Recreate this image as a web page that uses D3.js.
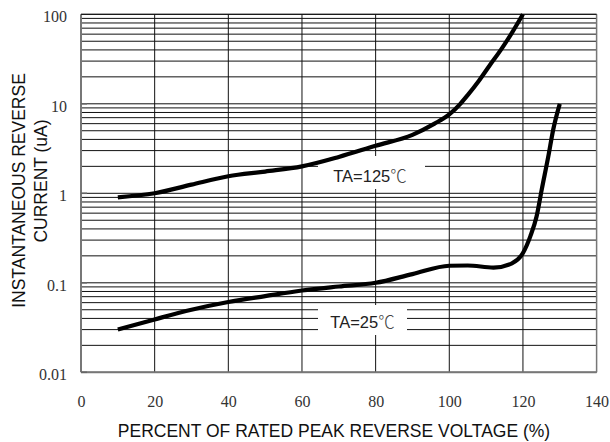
<!DOCTYPE html>
<html>
<head>
<meta charset="utf-8">
<script src="https://cdn.jsdelivr.net/npm/d3@7/dist/d3.min.js"></script>
<style>
  html, body { margin: 0; padding: 0; background: #fff; }
  svg { display: block; }
</style>
</head>
<body>
<svg id="chart" width="610" height="442"></svg>
<script>
// ---- data ----
const xTicks = [0, 20, 40, 60, 80, 100, 120, 140];
const yTicks = [0.01, 0.1, 1, 10, 100];
const yTickLabels = ["0.01", "0.1", "1", "10", "100"];

const ta125X = [10, 20, 30, 40, 50, 60, 70, 80, 90, 96, 100, 103, 105, 108, 111, 114, 117, 120];
const ta125Y = [0.9, 1.0, 1.25, 1.55, 1.75, 2.0, 2.55, 3.4, 4.5, 6.0, 7.6, 10, 12.5, 18, 27, 40, 62, 100];

const ta25X = [10, 20, 30, 40, 50, 60, 70, 80, 90, 100, 105, 112, 117, 120, 122, 123.7, 125.1, 126.9, 128.2, 130];
const ta25Y = [0.030, 0.039, 0.05, 0.061, 0.071, 0.082, 0.091, 0.10, 0.125, 0.155, 0.156, 0.148, 0.165, 0.215, 0.33, 0.55, 1.1, 2.6, 5.1, 10];

const seriesLabels = ["TA=125", "TA=25"];

// ---- layout ----
const L = 81, R = 596.6, T = 14.3, B = 372.3;
const svg = d3.select("#chart");
const x = d3.scaleLinear().domain([0, 140]).range([L, R]);
const y = d3.scaleLog().domain([0.01, 100]).range([B, T]);

// horizontal grid (1..9 per decade)
const hGrid = [];
for (let d = -2; d <= 1; d++) {
  for (let k = 1; k <= 9; k++) hGrid.push(k * Math.pow(10, d));
}
hGrid.push(100);
svg.append("g").selectAll("line").data(hGrid).join("line")
  .attr("x1", L).attr("x2", R)
  .attr("y1", d => y(d)).attr("y2", d => y(d))
  .attr("stroke", "#111").attr("stroke-width", 1);

// vertical grid
svg.append("g").selectAll("line").data(xTicks.slice(1, -1)).join("line")
  .attr("x1", d => x(d)).attr("x2", d => x(d))
  .attr("y1", T).attr("y2", B)
  .attr("stroke", "#111").attr("stroke-width", 1);

// frame
svg.append("line").attr("x1", L).attr("x2", L).attr("y1", T).attr("y2", B)
  .attr("stroke", "#777").attr("stroke-width", 2);
svg.append("line").attr("x1", R).attr("x2", R).attr("y1", T).attr("y2", B)
  .attr("stroke", "#777").attr("stroke-width", 1.5);
svg.append("line").attr("x1", L).attr("x2", R).attr("y1", B).attr("y2", B)
  .attr("stroke", "#777").attr("stroke-width", 2);
svg.append("line").attr("x1", L).attr("x2", R).attr("y1", T).attr("y2", T)
  .attr("stroke", "#111").attr("stroke-width", 1);

// small decade ticks inside left edge
svg.append("g").selectAll("line").data(yTicks.slice(0, -1)).join("line")
  .attr("x1", L).attr("x2", L + 6)
  .attr("y1", d => y(d)).attr("y2", d => y(d))
  .attr("stroke", "#666").attr("stroke-width", 1.5);

// label boxes (white, interrupting grid)
const boxes = [
  { x0: 318, x1: 425, y0: 156, y1: 189 },
  { x0: 318, x1: 407, y0: 305, y1: 335 }
];
svg.append("g").selectAll("rect").data(boxes).join("rect")
  .attr("x", d => d.x0).attr("y", d => d.y0)
  .attr("width", d => d.x1 - d.x0).attr("height", d => d.y1 - d.y0)
  .attr("fill", "#fff");

// curves
const line = d3.line().x(d => x(d[0])).y(d => y(d[1])).curve(d3.curveMonotoneX);
const s125 = ta125X.map((v, i) => [v, ta125Y[i]]);
const s25 = ta25X.map((v, i) => [v, ta25Y[i]]);
[s125, s25].forEach(s => {
  svg.append("path").datum(s).attr("d", line)
    .attr("fill", "none").attr("stroke", "#000").attr("stroke-width", 4.2)
    .attr("stroke-linejoin", "round");
});

// axes
const xAxis = svg.append("g").attr("transform", `translate(0,${B})`)
  .call(d3.axisBottom(x).tickValues(xTicks).tickSize(0).tickFormat(d3.format("d")));
xAxis.select(".domain").remove();
xAxis.selectAll("text").attr("y", 35).attr("dy", 0)
  .attr("font-family", "'Liberation Serif', 'DejaVu Serif', serif")
  .attr("font-size", 16).attr("fill", "#333");

const yAxis = svg.append("g").attr("transform", `translate(${L},0)`)
  .call(d3.axisLeft(y).tickValues(yTicks).tickSize(0)
    .tickFormat((d, i) => yTickLabels[i]));
yAxis.select(".domain").remove();
yAxis.selectAll("text").attr("x", -14).attr("dy", "0.45em")
  .attr("font-family", "'Liberation Serif', 'DejaVu Serif', serif")
  .attr("font-size", 16).attr("fill", "#333");

// series labels
const lab = [
  { t: seriesLabels[0], cx: 370, by: 181.7 },
  { t: seriesLabels[1], cx: 362.5, by: 328.3 }
];
lab.forEach(l => {
  const tx = svg.append("text").attr("x", l.cx).attr("y", l.by)
    .attr("text-anchor", "middle")
    .attr("font-family", "'Liberation Sans', Arial, sans-serif")
    .attr("font-size", 16.5).attr("fill", "#222");
  tx.append("tspan").text(l.t);
  tx.append("tspan").text("℃")
    .attr("font-family", "'Noto Sans CJK SC', 'DejaVu Sans', sans-serif")
    .attr("font-weight", 300).attr("fill", "#444");
});

// axis titles
svg.append("text").attr("x", 334).attr("y", 437)
  .attr("text-anchor", "middle")
  .attr("font-family", "'Liberation Sans', Arial, sans-serif")
  .attr("font-size", 17.5).attr("fill", "#111")
  .text("PERCENT OF RATED PEAK REVERSE VOLTAGE (%)");

svg.append("text").attr("transform", "translate(25,190.5) rotate(-90)")
  .attr("text-anchor", "middle")
  .attr("font-family", "'Liberation Sans', Arial, sans-serif")
  .attr("font-size", 17.5).attr("fill", "#111")
  .text("INSTANTANEOUS REVERSE");
svg.append("text").attr("transform", "translate(47,181) rotate(-90)")
  .attr("text-anchor", "middle")
  .attr("font-family", "'Liberation Sans', Arial, sans-serif")
  .attr("font-size", 17.5).attr("fill", "#111")
  .text("CURRENT (uA)");
</script>
</body>
</html>
